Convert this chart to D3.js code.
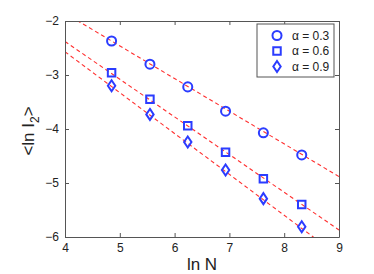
<!DOCTYPE html>
<html>
<head>
<meta charset="utf-8">
<script src="https://cdn.jsdelivr.net/npm/d3@7"></script>
<style>
  body { margin: 0; background: #fff; }
  svg { font-family: "Liberation Sans", Arial, sans-serif; }
</style>
</head>
<body>
<div class="visholder"></div>
<script>
let width = 374,
    height = 274;

const margin = { top: 21, right: 35, bottom: 37, left: 65 };

// ln N for every system size
const lnN = [4.85, 5.55, 6.24, 6.93, 7.62, 8.32];

// <ln I2> per alpha
const alphas = ["0.3", "0.6", "0.9"];
const circleVals = [-2.37, -2.80, -3.22, -3.67, -4.07, -4.48];
const squareVals = [-2.96, -3.45, -3.94, -4.43, -4.92, -5.40];
const diamondVals = [-3.20, -3.73, -4.24, -4.76, -5.29, -5.81];

// dashed fit lines: y = a + b * lnN
const fitIntercepts = [0.564, 0.412, 0.458];
const fitSlopes = [-0.605, -0.698, -0.757];

const xTicks = [4, 5, 6, 7, 8, 9];
const yTicks = [-2, -3, -4, -5, -6];

const blue = "#2b3cff",
    red = "#ff3030";

var svg = d3.select(".visholder")
    .append("svg")
    .attr("width", width)
    .attr("height", height);

var x = d3.scaleLinear().domain([4, 9]).range([margin.left, width - margin.right]);
var y = d3.scaleLinear().domain([-6, -2]).range([height - margin.bottom, margin.top]);

svg.append("defs").append("clipPath")
    .attr("id", "plotclip")
    .append("rect")
    .attr("x", x(4)).attr("y", y(-2))
    .attr("width", x(9) - x(4)).attr("height", y(-6) - y(-2));

// fit lines
var fits = svg.append("g").attr("clip-path", "url(#plotclip)");
fitIntercepts.forEach(function (a, i) {
    var b = fitSlopes[i];
    fits.append("path")
        .datum([4, 9])
        .attr("fill", "none")
        .attr("stroke", red)
        .attr("stroke-width", 1.1)
        .attr("stroke-dasharray", "4,3")
        .attr("d", d3.line()
            .x(function (d) { return x(d); })
            .y(function (d) { return y(a + b * d); }));
});

// axes
var fmt = function (d) { return d < 0 ? "\u2212" + Math.abs(d) : d; };
var axisColor = "#555";

var xAxis = svg.append("g")
    .attr("transform", `translate(0,${y(-6)})`)
    .call(d3.axisBottom(x).tickValues(xTicks).tickSizeInner(-4).tickSizeOuter(0).tickPadding(6).tickFormat(fmt));
var xAxisTop = svg.append("g")
    .attr("transform", `translate(0,${y(-2)})`)
    .call(d3.axisTop(x).tickValues(xTicks).tickSizeInner(-4).tickSizeOuter(0).tickFormat(""));
var yAxis = svg.append("g")
    .attr("transform", `translate(${x(4)},0)`)
    .call(d3.axisLeft(y).tickValues(yTicks).tickSizeInner(-4).tickSizeOuter(0).tickPadding(6).tickFormat(fmt));
var yAxisRight = svg.append("g")
    .attr("transform", `translate(${x(9)},0)`)
    .call(d3.axisRight(y).tickValues(yTicks).tickSizeInner(-4).tickSizeOuter(0).tickFormat(""));

[xAxis, xAxisTop, yAxis, yAxisRight].forEach(function (g) {
    g.selectAll("path, line").attr("stroke", axisColor);
    g.selectAll("text").attr("fill", "#222").style("font-size", "12px")
        .style("font-family", "Liberation Sans, Arial, sans-serif");
});

// markers
var series = [circleVals, squareVals, diamondVals];
var symbols = [d3.symbolCircle, d3.symbolSquare, d3.symbolDiamond];
var sizes = [64, 56, 0];

function drawMarker(g, k) {
    if (k === 2) {
        g.append("path")
            .attr("d", "M0,-5.5L3.7,0L0,5.5L-3.7,0Z");
    } else {
        g.append("path").attr("d", d3.symbol().type(symbols[k]).size(sizes[k])());
    }
    g.selectAll("path")
        .attr("fill", "none")
        .attr("stroke", blue)
        .attr("stroke-width", 2);
}

series.forEach(function (vals, k) {
    svg.append("g").selectAll(".pt")
        .data(vals)
        .enter()
        .append("g")
        .attr("class", "pt")
        .attr("transform", function (d, i) {
            return `translate(${x(lnN[i])},${y(d)})`;
        })
        .each(function () { drawMarker(d3.select(this), k); });
});

// legend
var legend = svg.append("g").attr("transform", "translate(257,24)");
legend.append("rect")
    .attr("width", 77).attr("height", 53)
    .attr("fill", "#fff")
    .attr("stroke", axisColor)
    .attr("stroke-width", 1);

alphas.forEach(function (a, k) {
    var row = legend.append("g").attr("transform", `translate(20,${11.5 + k * 15.5})`);
    drawMarker(row, k);
    row.append("text")
        .attr("x", 15)
        .attr("dy", "0.35em")
        .style("font-size", "12px")
        .attr("fill", "#222")
        .text("\u03b1 = " + a);
});

// axis titles
svg.append("text")
    .attr("x", (x(4) + x(9)) / 2)
    .attr("y", 270)
    .attr("text-anchor", "middle")
    .style("font-size", "17px")
    .attr("fill", "#222")
    .text("ln N");

var ylab = svg.append("text")
    .attr("transform", `translate(34,131) rotate(-90)`)
    .attr("text-anchor", "middle")
    .style("font-size", "17px")
    .attr("fill", "#222");
ylab.append("tspan").text("<ln I");
ylab.append("tspan").attr("dy", 5).style("font-size", "12px").text("2");
ylab.append("tspan").attr("dy", -5).text(">");
</script>
</body>
</html>
